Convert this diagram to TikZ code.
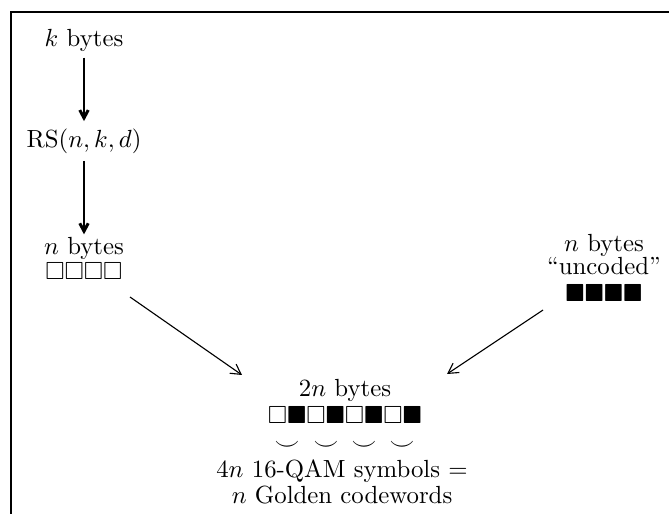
\documentclass[tikz,border=0pt]{standalone}
\usepackage{amssymb}
\usetikzlibrary{arrows.meta}
\begin{document}
\begin{tikzpicture}[x=0.4033pt,y=-0.4033pt,
  lbl/.style={inner sep=0pt, outer sep=0pt, align=center},
  bigarrow/.style={line width=1.2pt, -{Straight Barb[length=3.2pt,width=3.4pt]}},
  smallarrow/.style={line width=0.45pt, -{Straight Barb[length=4pt,width=4.5pt]}},
  framestyle/.style={line width=0.6pt}]
\useasboundingbox (0,0) rectangle (669,514);
\draw[framestyle] (11,514) -- (11,12) -- (669,12);
% left column
\node[lbl] (kb) at (84,40) {$k$ bytes};
\node[lbl] (rs) at (84,141) {RS$(n,k,d)$};
\node[lbl] (nb) at (84,248) {$n$ bytes};
\node[lbl] (wsq) at (84,271) {$\square\square\square\square$};
\draw[bigarrow, shorten <=2.6pt, shorten >=3pt] (kb.south) -- (rs.north);
\draw[bigarrow, shorten <=3pt, shorten >=1pt] (rs.south) -- (rs.south |- nb.north);
% right column
\node[lbl] (nu) at (604,245) {$n$ bytes};
\node[lbl] (unc) at (604,266) {``uncoded''};
\node[lbl] (bsq) at (604,293) {$\blacksquare\blacksquare\blacksquare\blacksquare$};
% bottom
\node[lbl] (tb) at (345,390) {$2n$ bytes};
\node[lbl] (msq) at (345,415) {$\square\blacksquare\square\blacksquare\square\blacksquare\square\blacksquare$};
\node[lbl] (s1) at (287,446) {$\smile$};
\node[lbl] (s2) at (326,446) {$\smile$};
\node[lbl] (s3) at (364,446) {$\smile$};
\node[lbl] (s4) at (402,446) {$\smile$};
\node[lbl] (q1) at (342,471) {$4n$ 16-QAM symbols $=$};
\node[lbl] (q2) at (342,495) {$n$ Golden codewords};
% diagonal arrows
\coordinate (la1) at (130,297);
\coordinate (la2) at (242,375);
\coordinate (ra1) at (543,310);
\coordinate (ra2) at (447,374);
\draw[smallarrow] (la1) -- (la2);
\draw[smallarrow] (ra1) -- (ra2);
\end{tikzpicture}
\end{document}
